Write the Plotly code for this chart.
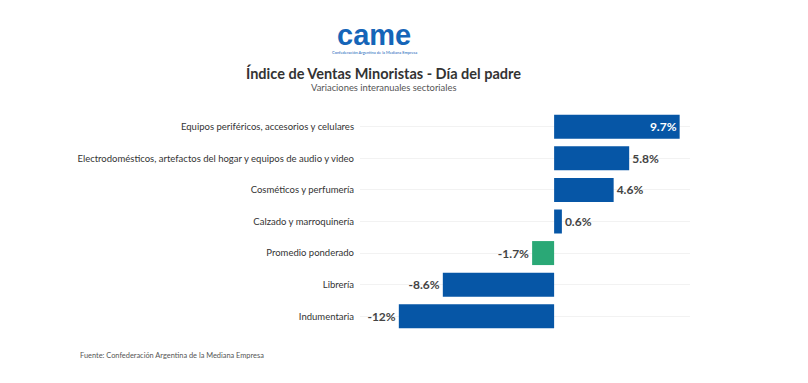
import plotly.graph_objects as go

categories = [
    "Equipos periféricos, accesorios y celulares",
    "Electrodomésticos, artefactos del hogar y equipos de audio y video",
    "Cosméticos y perfumería",
    "Calzado y marroquinería",
    "Promedio ponderado",
    "Librería",
    "Indumentaria",
]
values = [9.7, 5.8, 4.6, 0.6, -1.7, -8.6, -12]
labels = ["9.7%", "5.8%", "4.6%", "0.6%", "-1.7%", "-8.6%", "-12%"]

BLUE = "#0656a6"
GREEN = "#2aa876"
colors = [GREEN if c == "Promedio ponderado" else BLUE for c in categories]
positions = ["inside" if v > 8 else "outside" for v in values]

FONT = "Lato"

fig = go.Figure(go.Bar(
    x=values, y=categories, orientation="h",
    marker=dict(color=colors, line=dict(width=0)),
    text=labels, textposition=positions,
    insidetextanchor="end",
    outsidetextfont=dict(family=FONT, size=12, color="#444444", weight="bold"),
    insidetextfont=dict(family=FONT, size=12, color="white", weight="bold"),
    cliponaxis=False,
    hoverinfo="skip",
))

# page is offset by the 8px body margin; figure is 800x375
fig.update_layout(
    width=800, height=375,
    margin=dict(l=352, r=118, t=103, b=51),
    paper_bgcolor="white", plot_bgcolor="white",
    bargap=0.24,
    showlegend=False,
    font=dict(family=FONT, size=10, color="#333333"),
    xaxis=dict(range=[-15, 10.5], showgrid=False, zeroline=False,
               showticklabels=False, fixedrange=True),
    yaxis=dict(autorange="reversed", showgrid=True, gridcolor="#f2f2f2",
               gridwidth=1, ticks="", ticklabelstandoff=5,
               tickfont=dict(family=FONT, size=9.5, color="#333333")),
)


def px(x):
    return (x - 360) / 330


def py(y):
    return (332 - y) / 221


def note(x, y, text, size, color, anchor="center", family=FONT):
    fig.add_annotation(xref="paper", yref="paper", x=px(x), y=py(y),
                       xanchor=anchor, yanchor="middle", text=text,
                       showarrow=False,
                       font=dict(family=family, size=size, color=color))


# Logo (text approximation)
note(374, 35, "<b>came</b>", 29, "#1565b8", family="Arial")
note(374, 52, "Confederación Argentina de la Mediana Empresa", 4, "#1565b8")
# Title / subtitle
note(383, 73, "<b>Índice de Ventas Minoristas - Día del padre</b>", 14.5, "#333333")
note(383, 88, "Variaciones interanuales sectoriales", 9.4, "#555555")
# Footer
note(78, 355, "Fuente: Confederación Argentina de la Mediana Empresa", 7.4, "#555555", anchor="left")

fig.write_html("out.html")
